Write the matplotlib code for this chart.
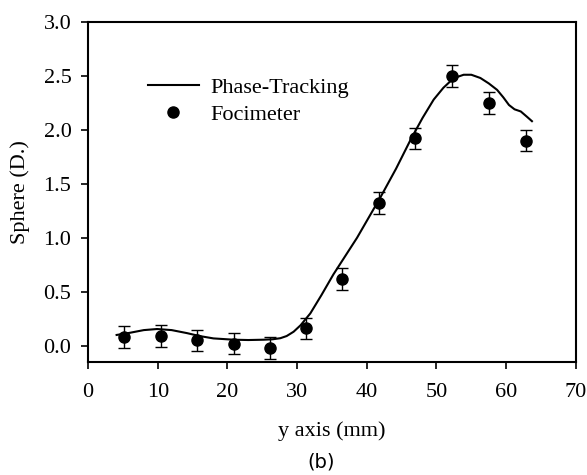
import matplotlib.pyplot as plt
from matplotlib.lines import Line2D
import numpy as np

plt.rcParams['font.family'] = ['Liberation Serif', 'DejaVu Serif']

# Focimeter measurements
foci_x = [5.2, 10.4, 15.7, 20.9, 26.1, 31.3, 36.5, 41.8, 46.9, 52.2, 57.5, 62.8]
foci_y = [0.08, 0.09, 0.05, 0.02, -0.02, 0.16, 0.62, 1.32, 1.92, 2.50, 2.25, 1.90]
foci_err = [0.1] * 12

# Phase-tracking curve
phase_x = [4.1, 6.0, 8.0, 9.9, 12.0, 14.2, 16.0, 18.0, 20.9, 23.0, 25.2, 26.5, 27.6, 28.5,
           29.5, 30.5, 31.9, 33.5, 35.2, 37.0, 38.6, 40.3, 42.0, 44.2, 46.3, 48.0, 49.6, 51.0,
           52.0, 53.0, 53.9, 55.0, 56.3, 57.5, 58.7, 59.6, 60.4, 61.2, 62.1, 63.0, 63.7]
phase_y = [0.10, 0.12, 0.145, 0.155, 0.145, 0.117, 0.09, 0.068, 0.056, 0.053, 0.056, 0.06,
           0.07, 0.09, 0.13, 0.19, 0.30, 0.47, 0.66, 0.84, 1.00, 1.19, 1.38, 1.64, 1.91, 2.11,
           2.28, 2.39, 2.45, 2.49, 2.51, 2.51, 2.48, 2.43, 2.37, 2.30, 2.23, 2.19, 2.17, 2.12, 2.08]

fig = plt.figure(figsize=(5.87, 4.75), dpi=100)
ax = fig.add_axes([0.15, 0.238, 0.831, 0.716])

ax.plot(phase_x, phase_y, color='black', lw=1.5)
ax.errorbar(foci_x, foci_y, yerr=foci_err, fmt='o', color='black', ms=8,
            ecolor='black', elinewidth=1, capsize=4, capthick=1)

ax.set_xlim(0, 70)
ax.set_ylim(-0.15, 3.0)
ax.set_xticks(np.arange(0, 71, 10))
ax.set_yticks(np.arange(0, 3.01, 0.5))
ax.set_yticklabels(['%.1f' % v for v in np.arange(0, 3.01, 0.5)])
ax.tick_params(direction='out', length=5, width=1.2, labelsize=16, pad=7)
ax.tick_params(axis='x', pad=10)
for s in ax.spines.values():
    s.set_linewidth(1.5)

ax.set_xlabel('y axis (mm)', fontsize=16, labelpad=14)
ax.set_ylabel('Sphere (D.)', fontsize=16, labelpad=10)

handles = [Line2D([], [], color='black', lw=1.5),
           Line2D([], [], color='black', marker='o', ms=8, ls='none')]
ax.legend(handles, ['Phase-Tracking', 'Focimeter'], loc='upper left',
          bbox_to_anchor=(0.104, 0.862), frameon=False, fontsize=16,
          handlelength=2.3, handletextpad=0.5, labelspacing=0.27, borderaxespad=0)

fig.text(0.547, 0.016, '(b)', fontsize=14, family='DejaVu Sans', ha='center')

fig.savefig('out.png', dpi=100)
